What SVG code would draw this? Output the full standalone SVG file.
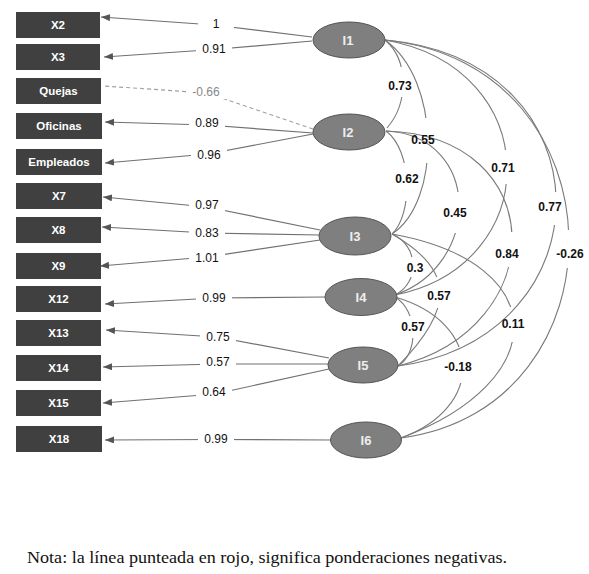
<svg xmlns="http://www.w3.org/2000/svg" width="589" height="574" viewBox="0 0 589 574">
<style>
.box{fill:#404040}
.bt{font-family:"Liberation Sans",Arial,sans-serif;font-weight:bold;font-size:11.5px;fill:#fff;text-anchor:middle}
.ell{fill:#7f7f7f;stroke:#555;stroke-width:1}
.et{font-family:"Liberation Sans",Arial,sans-serif;font-weight:bold;font-size:13px;fill:#eee;text-anchor:middle}
.ld{fill:none;stroke:#707070;stroke-width:1.2;marker-end:url(#arr)}
.dash{fill:none;stroke:#a0a0a0;stroke-width:1.2;stroke-dasharray:4 3}
.lt{font-family:"Liberation Sans",Arial,sans-serif;font-size:12px;fill:#111;text-anchor:middle}
.cv{fill:none;stroke:#7a7a7a;stroke-width:1.1}
.ct{font-family:"Liberation Sans",Arial,sans-serif;font-weight:bold;font-size:12px;fill:#111;text-anchor:middle}
.bg{fill:#fff}
.cap{font-family:"Liberation Serif","Times New Roman",serif;font-size:17px;fill:#111}
</style>
<defs>
<marker id="arr" markerUnits="userSpaceOnUse" markerWidth="10" markerHeight="8" refX="9" refY="3.5" orient="auto">
<path d="M0,0 L9,3.5 L0,7 z" fill="#555"/>
</marker>
<mask id="m1" maskUnits="userSpaceOnUse" x="0" y="0" width="589" height="574"><rect width="589" height="574" fill="#fff"/><rect x="384" y="67" width="36" height="30" fill="#000"/></mask>
<mask id="m2" maskUnits="userSpaceOnUse" x="0" y="0" width="589" height="574"><rect width="589" height="574" fill="#fff"/><rect x="408" y="118" width="40" height="45" fill="#000"/></mask>
<mask id="m3" maskUnits="userSpaceOnUse" x="0" y="0" width="589" height="574"><rect width="589" height="574" fill="#fff"/><rect x="487" y="150" width="40" height="34" fill="#000"/></mask>
<mask id="m4" maskUnits="userSpaceOnUse" x="0" y="0" width="589" height="574"><rect width="589" height="574" fill="#fff"/><rect x="535" y="192" width="40" height="33" fill="#000"/></mask>
<mask id="m5" maskUnits="userSpaceOnUse" x="0" y="0" width="589" height="574"><rect width="589" height="574" fill="#fff"/><rect x="549" y="230" width="40" height="38" fill="#000"/></mask>
<mask id="m6" maskUnits="userSpaceOnUse" x="0" y="0" width="589" height="574"><rect width="589" height="574" fill="#fff"/><rect x="387" y="163" width="40" height="38" fill="#000"/></mask>
<mask id="m7" maskUnits="userSpaceOnUse" x="0" y="0" width="589" height="574"><rect width="589" height="574" fill="#fff"/><rect x="439" y="192" width="40" height="41" fill="#000"/></mask>
<mask id="m8" maskUnits="userSpaceOnUse" x="0" y="0" width="589" height="574"><rect width="589" height="574" fill="#fff"/><rect x="492" y="232" width="40" height="35" fill="#000"/></mask>
<mask id="m9" maskUnits="userSpaceOnUse" x="0" y="0" width="589" height="574"><rect width="589" height="574" fill="#fff"/><rect x="398" y="257" width="30" height="20" fill="#000"/></mask>
<mask id="m10" maskUnits="userSpaceOnUse" x="0" y="0" width="589" height="574"><rect width="589" height="574" fill="#fff"/><rect x="419" y="277" width="40" height="31" fill="#000"/></mask>
<mask id="m11" maskUnits="userSpaceOnUse" x="0" y="0" width="589" height="574"><rect width="589" height="574" fill="#fff"/><rect x="493" y="307" width="40" height="35" fill="#000"/></mask>
<mask id="m12" maskUnits="userSpaceOnUse" x="0" y="0" width="589" height="574"><rect width="589" height="574" fill="#fff"/><rect x="396" y="316" width="36" height="22" fill="#000"/></mask>
<mask id="m13" maskUnits="userSpaceOnUse" x="0" y="0" width="589" height="574"><rect width="589" height="574" fill="#fff"/><rect x="444" y="347" width="40" height="36" fill="#000"/></mask>
</defs>
<rect width="589" height="574" fill="#fff"/>

<g id="connectors">
<g id="loadings">
<path class="ld" d="M312,37 L214,25 L101,17"/>
<path class="ld" d="M312,41 L214,49.5 L104,57"/>
<path class="dash" d="M313,129 L207,93 L104,86"/>
<path class="ld" d="M313,133 L207,125 L105,122"/>
<path class="ld" d="M313,134 L208,154 L105,163"/>
<path class="ld" d="M320,230 L207,207 L103,197"/>
<path class="ld" d="M320,235 L207,233 L102,227"/>
<path class="ld" d="M320,240 L207,257 L100,266"/>
<path class="ld" d="M325,297 L215,298 L105,304"/>
<path class="ld" d="M329,358 L217,337 L106,330"/>
<path class="ld" d="M328,364 L217,364 L103,367"/>
<path class="ld" d="M329,369 L215,394 L103,403"/>
<path class="ld" d="M331,440 L215,439.5 L105,440"/>
<rect class="bg" x="198" y="17" width="36" height="14"/>
<rect class="bg" x="196" y="42" width="36" height="14"/>
<rect class="bg" x="186" y="85" width="40" height="14"/>
<rect class="bg" x="189" y="116" width="36" height="14"/>
<rect class="bg" x="191" y="148" width="36" height="14"/>
<rect class="bg" x="189" y="198" width="36" height="14"/>
<rect class="bg" x="189" y="226" width="36" height="14"/>
<rect class="bg" x="189" y="251" width="36" height="14"/>
<rect class="bg" x="196" y="291" width="36" height="14"/>
<rect class="bg" x="200" y="330" width="36" height="14"/>
<rect class="bg" x="200" y="355" width="36" height="14"/>
<rect class="bg" x="196" y="385" width="36" height="14"/>
<rect class="bg" x="198" y="432" width="36" height="14"/>
<text class="lt" x="216" y="28">1</text>
<text class="lt" x="214" y="53">0.91</text>
<text class="lt" x="206" y="96" style="fill:#888">-0.66</text>
<text class="lt" x="207" y="127">0.89</text>
<text class="lt" x="209" y="159">0.96</text>
<text class="lt" x="207" y="209">0.97</text>
<text class="lt" x="207" y="237">0.83</text>
<text class="lt" x="207" y="262">1.01</text>
<text class="lt" x="214" y="302">0.99</text>
<text class="lt" x="218" y="341">0.75</text>
<text class="lt" x="218" y="366">0.57</text>
<text class="lt" x="214" y="396">0.64</text>
<text class="lt" x="216" y="443">0.99</text>
</g>
<g id="covariances">
<path class="cv" mask="url(#m1)" d="M385,40 C408.7,60 408.7,103 387,128"/>
<path class="cv" mask="url(#m2)" d="M385,40 C441,80 441,202 392,234"/>
<path class="cv" mask="url(#m3)" d="M385,40 C546,68 546,265 395,295"/>
<path class="cv" mask="url(#m4)" d="M385,40 C611,60 611,336 398,366"/>
<path class="cv" mask="url(#m5)" d="M385,40 C627.5,65 627.5,408 401,438"/>
<path class="cv" mask="url(#m6)" d="M386,131 C412.8,151 412.8,214 392,234"/>
<path class="cv" mask="url(#m7)" d="M386,131 C482,136 482,265 395,295"/>
<path class="cv" mask="url(#m8)" d="M386,131 C552,136 552,328 398,366"/>
<path class="cv" mask="url(#m9)" d="M392,234 C419.5,246 419.5,283 395,295"/>
<path class="cv" mask="url(#m10)" d="M392,234 C455,270 455,308 398,366"/>
<path class="cv" mask="url(#m11)" d="M392,234 C553,263 553,381 401,438"/>
<path class="cv" mask="url(#m12)" d="M395,297 C418.5,311 418.5,354 398,366"/>
<path class="cv" mask="url(#m13)" d="M395,297 C484.5,323 484.5,408 401,438"/>
<text class="ct" x="400" y="90">0.73</text>
<text class="ct" x="423" y="144">0.55</text>
<text class="ct" x="503" y="172">0.71</text>
<text class="ct" x="550" y="211">0.77</text>
<text class="ct" x="570" y="258">-0.26</text>
<text class="ct" x="407" y="183">0.62</text>
<text class="ct" x="455" y="217">0.45</text>
<text class="ct" x="507" y="258">0.84</text>
<text class="ct" x="415" y="272">0.3</text>
<text class="ct" x="439" y="300">0.57</text>
<text class="ct" x="513" y="328">0.11</text>
<text class="ct" x="413" y="331">0.57</text>
<text class="ct" x="458" y="371">-0.18</text>
</g>
</g>

<g id="x2"><rect class="box" x="16" y="12" width="84" height="26"/><text class="bt" x="58" y="29">X2</text></g>
<g id="x3"><rect class="box" x="16" y="44" width="84" height="26"/><text class="bt" x="58" y="61">X3</text></g>
<g id="quejas"><rect class="box" x="16" y="78" width="85" height="26"/><text class="bt" x="58.5" y="95">Quejas</text></g>
<g id="oficinas"><rect class="box" x="16" y="113" width="86" height="26"/><text class="bt" x="59" y="130">Oficinas</text></g>
<g id="empleados"><rect class="box" x="16" y="149" width="86" height="26"/><text class="bt" x="59" y="166">Empleados</text></g>
<g id="x7"><rect class="box" x="16" y="183" width="86" height="26"/><text class="bt" x="59" y="200">X7</text></g>
<g id="x8"><rect class="box" x="16" y="217" width="85" height="26"/><text class="bt" x="58.5" y="234">X8</text></g>
<g id="x9"><rect class="box" x="16" y="253" width="85" height="26"/><text class="bt" x="58.5" y="270">X9</text></g>
<g id="x12"><rect class="box" x="16" y="286" width="85" height="26"/><text class="bt" x="58.5" y="303">X12</text></g>
<g id="x13"><rect class="box" x="16" y="320" width="85" height="26"/><text class="bt" x="58.5" y="337">X13</text></g>
<g id="x14"><rect class="box" x="16" y="355" width="85" height="26"/><text class="bt" x="58.5" y="372">X14</text></g>
<g id="x15"><rect class="box" x="16" y="390" width="85" height="26"/><text class="bt" x="58.5" y="407">X15</text></g>
<g id="x18"><rect class="box" x="16" y="426" width="86" height="26"/><text class="bt" x="59" y="443">X18</text></g>

<g id="i1"><ellipse class="ell" cx="349" cy="40" rx="36" ry="18"/><text class="et" x="348" y="45">I1</text></g>
<g id="i2"><ellipse class="ell" cx="349" cy="132" rx="36" ry="18"/><text class="et" x="348" y="137">I2</text></g>
<g id="i3"><ellipse class="ell" cx="355" cy="236" rx="36" ry="19"/><text class="et" x="355" y="241">I3</text></g>
<g id="i4"><ellipse class="ell" cx="361" cy="297" rx="36" ry="18.5"/><text class="et" x="361" y="302">I4</text></g>
<g id="i5"><ellipse class="ell" cx="363" cy="365" rx="35" ry="18"/><text class="et" x="363" y="370">I5</text></g>
<g id="i6"><ellipse class="ell" cx="366" cy="440" rx="35.5" ry="18"/><text class="et" x="366" y="445">I6</text></g>

<text class="cap" x="27" y="563" textLength="480" lengthAdjust="spacingAndGlyphs">Nota: la línea punteada en rojo, significa ponderaciones negativas.</text>
</svg>
